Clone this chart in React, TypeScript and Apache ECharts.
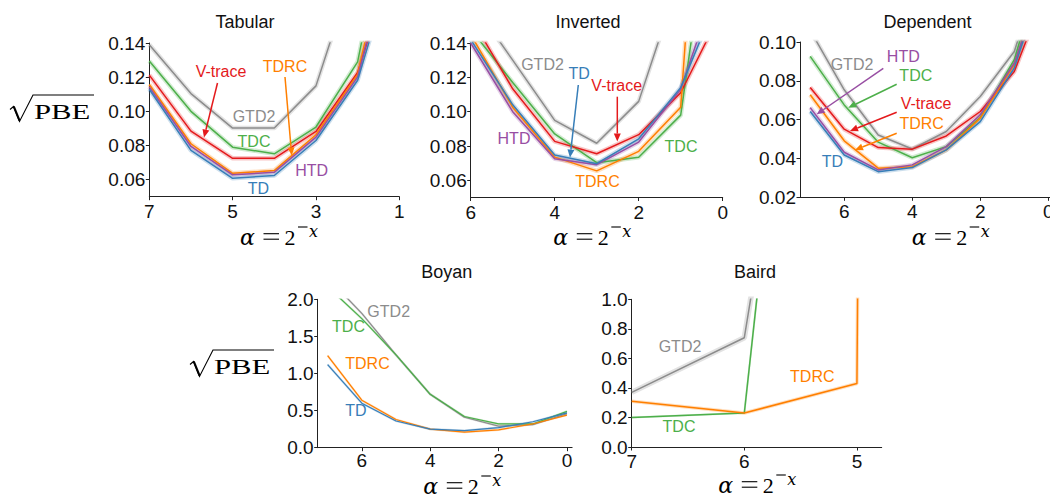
import React, { useEffect, useRef } from 'react';
import * as echarts from 'echarts';

// ---------- colours ----------
const COLORS: Record<string, string> = {
  TD: '#377eb8',
  HTD: '#984ea3',
  TDRC: '#ff7f00',
  'V-trace': '#e41a1c',
  TDC: '#4daf4a',
  GTD2: '#8c8c8c',
};

// ---------- Tabular ----------
const tabularX = [7, 6, 5, 4, 3, 2, 1];
const tabularGTD2 = [0.139, 0.1104, 0.0902, 0.0902, 0.1149, 0.19, 0.3];
const tabularTDC = [0.1294, 0.1, 0.079, 0.0751, 0.0908, 0.129, 0.25];
const tabularVtrace = [0.1212, 0.0884, 0.0725, 0.0725, 0.0882, 0.1228, 0.2];
const tabularTDRC = [0.1157, 0.081, 0.0637, 0.0653, 0.0863, 0.1216, 0.23];
const tabularHTD = [0.1143, 0.0794, 0.0628, 0.0643, 0.0849, 0.1202, 0.215];
const tabularTD = [0.1129, 0.0771, 0.0608, 0.0624, 0.0829, 0.1182, 0.2];

// ---------- Inverted ----------
const invertedX = [6, 5, 4, 3, 2, 1, 0];
const invertedGTD2 = [0.165, 0.13, 0.0949, 0.0816, 0.106, 0.18, 0.3];
const invertedTDC = [0.148, 0.117, 0.087, 0.0703, 0.0735, 0.098, 0.27];
const invertedVtrace = [0.155, 0.1133, 0.0827, 0.0755, 0.0866, 0.111, 0.16];
const invertedTDRC = [0.145, 0.1026, 0.0735, 0.0655, 0.0769, 0.1026, 0.45];
const invertedHTD = [0.14, 0.1, 0.0726, 0.0691, 0.0823, 0.113, 0.185];
const invertedTD = [0.142, 0.104, 0.0747, 0.0697, 0.0842, 0.114, 0.173];

// ---------- Dependent ----------
const dependentX = [7, 6, 5, 4, 3, 2, 1, 0];
const dependentGTD2 = [0.106, 0.0754, 0.0521, 0.0449, 0.0539, 0.0719, 0.0951, 0.15];
const dependentTDC = [0.0926, 0.0676, 0.0484, 0.0404, 0.0461, 0.0611, 0.0909, 0.15];
const dependentVtrace = [0.0766, 0.0551, 0.0456, 0.0448, 0.0516, 0.0642, 0.0848, 0.13];
const dependentTDRC = [0.0728, 0.0491, 0.035, 0.0358, 0.0444, 0.0608, 0.0883, 0.14];
const dependentHTD = [0.0662, 0.0432, 0.0341, 0.0367, 0.0461, 0.0625, 0.0892, 0.14];
const dependentTD = [0.0642, 0.0418, 0.0332, 0.0353, 0.0444, 0.059, 0.0866, 0.14];

// ---------- Boyan ----------
const boyanX = [7, 6, 5, 4, 3, 2, 1, 0];
const boyanGTD2 = [2.29, 1.81, 1.25, 0.72, 0.41, 0.29, 0.31, 0.46];
const boyanTDC = [2.17, 1.74, 1.25, 0.72, 0.42, 0.32, 0.32, 0.49];
const boyanTDRC = [1.24, 0.64, 0.38, 0.25, 0.21, 0.24, 0.32, 0.44];
const boyanTD = [1.12, 0.6, 0.36, 0.25, 0.23, 0.27, 0.35, 0.47];

// ---------- Baird ----------
const bairdX = [7, 6, 5, 4];
const bairdGTD2 = [0.37, 0.74, 5.4];
const bairdTDC = [0.2, 0.23, 7.2];
const bairdTDRC = [0.31, 0.23, 0.43, 100];

// ---------- tick labels ----------
const tabularXTicks = [7, 5, 3, 1];
const invertedXTicks = [6, 4, 2, 0];
const dependentXTicks = [6, 4, 2, 0];
const boyanXTicks = [6, 4, 2, 0];
const bairdXTicks = [7, 6, 5];
const topYTicks = [0.06, 0.08, 0.1, 0.12, 0.14];
const dependentYTicks = [0.02, 0.04, 0.06, 0.08, 0.1];
const boyanYTicks = [0, 0.5, 1, 1.5, 2];
const bairdYTicks = [0, 0.2, 0.4, 0.6, 0.8, 1];

const titles = ['Tabular', 'Inverted', 'Dependent', 'Boyan', 'Baird'];

type PanelSeries = { name: string; values: number[]; band?: number };
type Panel = {
  grid: { left: number; top: number; width: number; height: number };
  xs: number[];
  xMin: number;
  xMax: number;
  xTicks: number[];
  xMargin: number;
  yMin: number;
  yMax: number;
  yTicks: number[];
  yDec: number;
  lineW: number;
  bandW: number;
  series: PanelSeries[];
};

const panels: Panel[] = [
  {
    grid: { left: 149.3, top: 43, width: 250, height: 153.7 },
    xs: tabularX, xMin: 1, xMax: 7, xTicks: tabularXTicks, xMargin: 5,
    yMin: 0.05, yMax: 0.14, yTicks: topYTicks, yDec: 2, lineW: 1.5, bandW: 4.5,
    series: [
      { name: 'GTD2', values: tabularGTD2 },
      { name: 'TDC', values: tabularTDC },
      { name: 'V-trace', values: tabularVtrace },
      { name: 'TDRC', values: tabularTDRC },
      { name: 'HTD', values: tabularHTD },
      { name: 'TD', values: tabularTD },
    ],
  },
  {
    grid: { left: 470.7, top: 43, width: 252, height: 154.5 },
    xs: invertedX, xMin: 0, xMax: 6, xTicks: invertedXTicks, xMargin: 5,
    yMin: 0.05, yMax: 0.14, yTicks: topYTicks, yDec: 2, lineW: 1.5, bandW: 4.5,
    series: [
      { name: 'GTD2', values: invertedGTD2 },
      { name: 'TDC', values: invertedTDC },
      { name: 'V-trace', values: invertedVtrace },
      { name: 'TDRC', values: invertedTDRC },
      { name: 'HTD', values: invertedHTD },
      { name: 'TD', values: invertedTD },
    ],
  },
  {
    grid: { left: 800, top: 42, width: 250, height: 155.3 },
    xs: dependentX, xMin: -0.05, xMax: 7.3, xTicks: dependentXTicks, xMargin: 5,
    yMin: 0.02, yMax: 0.1, yTicks: dependentYTicks, yDec: 2, lineW: 1.5, bandW: 4.5,
    series: [
      { name: 'GTD2', values: dependentGTD2 },
      { name: 'TDC', values: dependentTDC },
      { name: 'V-trace', values: dependentVtrace },
      { name: 'TDRC', values: dependentTDRC },
      { name: 'HTD', values: dependentHTD },
      { name: 'TD', values: dependentTD },
    ],
  },
  {
    grid: { left: 317.7, top: 299.3, width: 254.4, height: 148.4 },
    xs: boyanX, xMin: -0.15, xMax: 7.29, xTicks: boyanXTicks, xMargin: 3.5,
    yMin: 0, yMax: 2, yTicks: boyanYTicks, yDec: 1, lineW: 1.2, bandW: 2.2,
    series: [
      { name: 'GTD2', values: boyanGTD2 },
      { name: 'TDC', values: boyanTDC },
      { name: 'TDRC', values: boyanTDRC },
      { name: 'TD', values: boyanTD },
    ],
  },
  {
    grid: { left: 631.7, top: 299.3, width: 250, height: 147.7 },
    xs: bairdX, xMin: 4.78, xMax: 7, xTicks: bairdXTicks, xMargin: 5,
    yMin: 0, yMax: 1, yTicks: bairdYTicks, yDec: 1, lineW: 1.5, bandW: 3,
    series: [
      { name: 'GTD2', values: bairdGTD2, band: 5.5 },
      { name: 'TDC', values: bairdTDC, band: 2 },
      { name: 'TDRC', values: bairdTDRC, band: 3.5 },
    ],
  },
];

const SANS = '"Liberation Sans", Arial, Helvetica, sans-serif';
const SERIF = '"Liberation Serif", "DejaVu Serif", serif';
const DSERIF = '"DejaVu Serif", "Liberation Serif", serif';

function arrow(x1: number, y1: number, x2: number, y2: number, color: string) {
  const dx = x2 - x1, dy = y2 - y1;
  const L = Math.hypot(dx, dy);
  const ux = dx / L, uy = dy / L;
  const hl = 8, hw = 3.5;
  const bx = x2 - ux * hl, by = y2 - uy * hl;
  return [
    { type: 'line', silent: true, z: 100, shape: { x1, y1, x2: bx, y2: by }, style: { stroke: color, lineWidth: 1.5 } },
    {
      type: 'polygon', silent: true, z: 100,
      shape: { points: [[x2, y2], [bx - uy * hw, by + ux * hw], [bx + uy * hw, by - ux * hw]] },
      style: { fill: color },
    },
  ];
}

function label(text: string, x: number, y: number, color: string) {
  return {
    type: 'text', x, y, silent: true, z: 100,
    style: { text, fill: color, fontSize: 16, fontFamily: SANS, align: 'center', verticalAlign: 'middle' },
  };
}

function yLabel(ox: number, oy: number) {
  return [
    {
      type: 'polyline', silent: true,
      shape: { points: [[10 + ox, 109.5 + oy], [13.5 + ox, 106.5 + oy], [19.5 + ox, 121.5 + oy], [33 + ox, 95 + oy], [94 + ox, 95 + oy]] },
      style: { stroke: '#000', lineWidth: 1.1, fill: null },
    },
    {
      type: 'line', silent: true,
      shape: { x1: 13.8 + ox, y1: 106.5 + oy, x2: 19.5 + ox, y2: 120.5 + oy },
      style: { stroke: '#000', lineWidth: 2 },
    },
    {
      type: 'text', silent: true, x: 34 + ox, y: 112 + oy, scaleX: 1.5,
      style: { text: 'PBE', fill: '#000', fontSize: 20.5, fontFamily: SERIF, align: 'left', verticalAlign: 'middle' },
    },
  ];
}

// x-axis title  α = 2^(−x), positioned from its left edge and baseline
function xLabel(left: number, base: number) {
  const t = (text: string, dx: number, cy: number, size: number, family: string, italic: boolean) => ({
    type: 'text', silent: true, x: left + dx, y: cy,
    style: {
      text, fill: '#000', fontSize: size, fontFamily: family, fontStyle: italic ? 'italic' : 'normal',
      align: 'left', verticalAlign: 'middle',
    },
  });
  const bar = (x1: number, x2: number, y: number) => ({
    type: 'line', silent: true,
    shape: { x1: left + x1, y1: base + y, x2: left + x2, y2: base + y },
    style: { stroke: '#000', lineWidth: 1.1 },
  });
  return [
    t('α', 0, base - 7.5, 22, DSERIF, true),
    bar(23.5, 39, -11.3), // "="
    bar(23.5, 39, -5.8),
    t('2', 44.5, base - 7.5, 22, SERIF, false),
    bar(58, 67.5, -18), // superscript minus
    t('x', 69, base - 14, 16, DSERIF, true),
  ];
}

function buildOption() {
  const grids: any[] = [];
  const xAxes: any[] = [];
  const yAxes: any[] = [];
  const series: any[] = [];
  panels.forEach((p, i) => {
    grids.push({ ...p.grid, outerBoundsMode: 'none', containLabel: false });
    xAxes.push({
      type: 'value', gridIndex: i, min: p.xMin, max: p.xMax, inverse: true,
      splitLine: { show: false },
      axisLine: { show: true, onZero: false, lineStyle: { color: '#222', width: 1 } },
      axisTick: { show: true, length: 3.5, customValues: p.xTicks, lineStyle: { color: '#222' } },
      axisLabel: { customValues: p.xTicks, fontSize: 19, fontFamily: SANS, color: '#111', margin: p.xMargin, formatter: (v: number) => String(v) },
    });
    yAxes.push({
      type: 'value', gridIndex: i, min: p.yMin, max: p.yMax,
      splitLine: { show: false },
      axisLine: { show: true, onZero: false, lineStyle: { color: '#222', width: 1 } },
      axisTick: { show: true, length: 3.5, customValues: p.yTicks, lineStyle: { color: '#222' } },
      axisLabel: { customValues: p.yTicks, fontSize: 19, fontFamily: SANS, color: '#111', margin: 4, formatter: (v: number) => v.toFixed(p.yDec) },
    });
    p.series.forEach((s, k) => {
      const data = s.values.map((v, j) => [p.xs[j], v]);
      const color = COLORS[s.name];
      series.push({
        type: 'line', name: s.name + ' band', xAxisIndex: i, yAxisIndex: i, data,
        symbol: 'none', silent: true, clip: true, z: 1,
        lineStyle: { color, width: s.band ?? p.bandW, opacity: 0.25 },
      });
      series.push({
        type: 'line', name: s.name, xAxisIndex: i, yAxisIndex: i, data,
        symbol: 'none', silent: true, clip: true, z: 2 + k,
        lineStyle: { color, width: p.lineW },
      });
    });
  });

  const titlePos = [[245, 21.5], [588, 21.5], [927.5, 21.5], [446.7, 271.5], [755, 271.5]];
  const graphic: any[] = [];
  titles.forEach((t, i) => {
    graphic.push({
      type: 'text', silent: true, x: titlePos[i][0], y: titlePos[i][1],
      style: { text: t, fill: '#111', fontSize: 18, fontFamily: SANS, align: 'center', verticalAlign: 'middle' },
    });
  });
  graphic.push(...yLabel(0, 0), ...yLabel(180, 255));
  graphic.push(...xLabel(240, 245), ...xLabel(553.3, 245), ...xLabel(911.7, 245), ...xLabel(423.3, 494), ...xLabel(718.3, 493));

  // Tabular annotations
  graphic.push(label('V-trace', 221, 71, COLORS['V-trace']), ...arrow(217.5, 83, 204, 137.5, COLORS['V-trace']));
  graphic.push(label('TDRC', 285, 66, COLORS.TDRC), ...arrow(285, 77, 291.7, 155.5, COLORS.TDRC));
  graphic.push(label('GTD2', 254, 116, COLORS.GTD2));
  graphic.push(label('TDC', 254, 141.7, COLORS.TDC));
  graphic.push(label('HTD', 311.7, 170, COLORS.HTD));
  graphic.push(label('TD', 258.3, 188.3, COLORS.TD));
  // Inverted annotations
  graphic.push(label('GTD2', 542.5, 64.7, COLORS.GTD2));
  graphic.push(label('TD', 579.2, 73.3, COLORS.TD), ...arrow(578.3, 85, 570, 157.5, COLORS.TD));
  graphic.push(label('V-trace', 616.7, 85, COLORS['V-trace']), ...arrow(617.3, 96.7, 617.3, 141.5, COLORS['V-trace']));
  graphic.push(label('HTD', 514, 138.3, COLORS.HTD));
  graphic.push(label('TDC', 681, 146.7, COLORS.TDC));
  graphic.push(label('TDRC', 597.5, 181.7, COLORS.TDRC));
  // Dependent annotations
  graphic.push(label('GTD2', 852, 64.5, COLORS.GTD2));
  graphic.push(label('HTD', 903.3, 56.7, COLORS.HTD), ...arrow(883.3, 68.3, 816.7, 114.3, COLORS.HTD));
  graphic.push(label('TDC', 915.8, 75.8, COLORS.TDC), ...arrow(896.7, 84.3, 848.3, 107.7, COLORS.TDC));
  graphic.push(label('V-trace', 926, 103.3, COLORS['V-trace']), ...arrow(896.7, 112.3, 850, 131, COLORS['V-trace']));
  graphic.push(label('TDRC', 921.7, 123.3, COLORS.TDRC), ...arrow(896.7, 133.3, 855, 150, COLORS.TDRC));
  graphic.push(label('TD', 832.5, 161.7, COLORS.TD));
  // Boyan annotations
  graphic.push(label('GTD2', 388.7, 311.7, COLORS.GTD2));
  graphic.push(label('TDC', 348.5, 326.7, COLORS.TDC));
  graphic.push(label('TDRC', 367.5, 363.3, COLORS.TDRC));
  graphic.push(label('TD', 355.8, 410, COLORS.TD));
  // Baird annotations
  graphic.push(label('GTD2', 680, 346.7, COLORS.GTD2));
  graphic.push(label('TDRC', 812.3, 376, COLORS.TDRC));
  graphic.push(label('TDC', 679, 426.3, COLORS.TDC));

  return {
    animation: false,
    backgroundColor: '#fff',
    grid: grids,
    xAxis: xAxes,
    yAxis: yAxes,
    series,
    graphic,
  };
}

export default function App() {
  const ref = useRef<HTMLDivElement>(null);
  useEffect(() => {
    if (!ref.current) return;
    const chart = echarts.init(ref.current, null, { renderer: 'svg' });
    chart.setOption(buildOption() as any);
    return () => chart.dispose();
  }, []);
  return (
    <div
      ref={ref}
      style={{ position: 'fixed', left: 0, top: 0, width: 1050, height: 498, background: '#fff' }}
    />
  );
}
